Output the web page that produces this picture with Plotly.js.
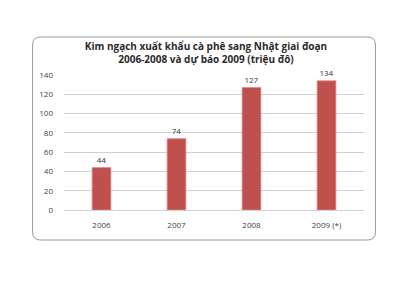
<!DOCTYPE html>
<html>
<head>
<meta charset="utf-8">
<script src="https://cdn.plot.ly/plotly-3.0.1.min.js"></script>
<style>
  html, body { margin: 0; padding: 0; background: #ffffff; }
  #chart { width: 405px; height: 305px; }
</style>
</head>
<body>
<div id="chart"></div>
<script>
// Coffee export turnover to Japan, 2006-2008 and 2009 forecast (million USD)
var years = ['2006', '2007', '2008', '2009 (*)'];
var values = [44, 74, 127, 134];
var yTicks = [0, 20, 40, 60, 80, 100, 120, 140];

var W = 405, H = 305;
var margin = { l: 63.5, r: 40.5, t: 75, b: 95 };
var pw = W - margin.l - margin.r;
var ph = H - margin.t - margin.b;

// frame around the chart, given in pixels and converted to paper units
function px(x) { return (x - margin.l) / pw; }
function py(y) { return (H - margin.b - y) / ph; }
var fx0 = 32, fx1 = 376, fy0 = 37, fy1 = 240, rad = 8;
var frame = 'M' + px(fx0 + rad) + ',' + py(fy0) +
  ' L' + px(fx1 - rad) + ',' + py(fy0) +
  ' Q' + px(fx1) + ',' + py(fy0) + ' ' + px(fx1) + ',' + py(fy0 + rad) +
  ' L' + px(fx1) + ',' + py(fy1 - rad) +
  ' Q' + px(fx1) + ',' + py(fy1) + ' ' + px(fx1 - rad) + ',' + py(fy1) +
  ' L' + px(fx0 + rad) + ',' + py(fy1) +
  ' Q' + px(fx0) + ',' + py(fy1) + ' ' + px(fx0) + ',' + py(fy1 - rad) +
  ' L' + px(fx0) + ',' + py(fy0 + rad) +
  ' Q' + px(fx0) + ',' + py(fy0) + ' ' + px(fx0 + rad) + ',' + py(fy0) + ' Z';

var trace = {
  type: 'bar',
  x: years,
  y: values,
  width: 0.25,
  marker: { color: '#c0504d', line: { color: '#e08a86', width: 0.8 } },
  text: values.map(String),
  textposition: 'outside',
  textfont: { family: 'Open Sans, sans-serif', size: 8, color: '#333333' },
  cliponaxis: false,
  hoverinfo: 'skip'
};

var layout = {
  width: W,
  height: H,
  margin: margin,
  paper_bgcolor: '#ffffff',
  plot_bgcolor: '#ffffff',
  showlegend: false,
  title: {
    text: '<b>Kim ngạch xuất khẩu cà phê sang Nhật giai đoạn<br>2006-2008 và dự báo 2009 (triệu đô)</b>',
    font: { family: 'Open Sans, sans-serif', size: 10, color: '#2b2b2b' },
    x: 206 / W, xanchor: 'center', xref: 'container',
    y: 1 - 50 / H, yanchor: 'top', yref: 'container'
  },
  xaxis: {
    type: 'category',
    showgrid: false,
    zeroline: false,
    showline: false,
    ticks: '',
    tickfont: { family: 'Open Sans, sans-serif', size: 8, color: '#444444' },
    ticklabelstandoff: 9,
    fixedrange: true
  },
  yaxis: {
    range: [0, 140],
    tickvals: yTicks,
    ticktext: yTicks.map(String),
    showgrid: true,
    gridcolor: '#d0d0d0',
    gridwidth: 1,
    zeroline: true,
    zerolinecolor: '#d0d0d0',
    zerolinewidth: 1,
    showline: false,
    ticks: '',
    tickfont: { family: 'Open Sans, sans-serif', size: 8, color: '#444444' },
    ticklabelstandoff: 10,
    fixedrange: true
  },
  shapes: [{
    type: 'path',
    xref: 'paper', yref: 'paper',
    path: frame,
    line: { color: '#9a9a9a', width: 1 },
    fillcolor: 'rgba(0,0,0,0)',
    layer: 'below'
  }]
};

Plotly.newPlot('chart', [trace], layout, { displayModeBar: false, staticPlot: true });
</script>
</body>
</html>
